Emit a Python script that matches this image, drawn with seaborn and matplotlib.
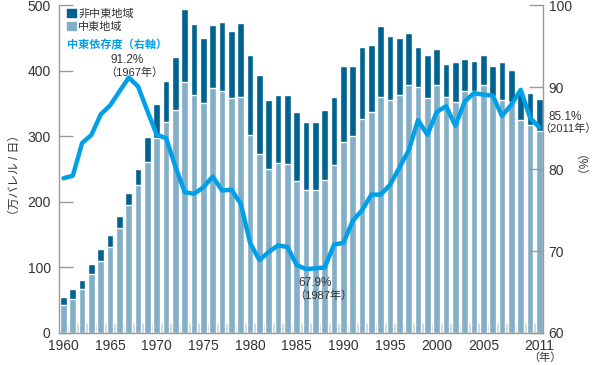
import matplotlib
matplotlib.use("Agg")
import matplotlib.pyplot as plt
from matplotlib.patches import Patch
import pandas as pd
import seaborn as sns

# Japan crude oil imports (10k barrels/day) and Middle East dependency (%)
years = list(range(1960, 2012))
total_imports = [55.5, 66.7, 81, 106, 127.5, 149, 178, 213, 250, 299,
                 350, 384, 421, 495, 472, 450, 470, 475, 461, 474,
                 425, 394, 355, 364, 363, 338, 322, 322, 340, 360,
                 408, 408, 436, 439, 468, 454, 450, 458, 436, 425,
                 434, 410, 413, 419, 415, 425, 407, 413, 401, 368,
                 366, 357]
middle_east = [43, 52, 66.7, 89.5, 110, 131, 160, 196, 226, 261,
               297, 322, 340, 383, 364, 351, 374, 369, 359, 360,
               303, 273, 250, 259, 258, 232, 218, 218, 233, 257,
               292, 301, 327, 338, 361, 356, 364, 378, 375, 359,
               378, 360, 353, 370, 370, 379, 362, 356, 352, 325,
               317, 308]
dependency = [78.9, 79.2, 83.2, 84.2, 86.7, 87.8, 89.5, 91.2, 90.1, 87.1,
              84.2, 83.8, 80.3, 77.2, 77.0, 77.8, 79.1, 77.4, 77.5, 75.8,
              71.0, 68.9, 69.9, 70.7, 70.5, 68.3, 67.8, 67.9, 68.0, 70.8,
              71.0, 73.7, 75.0, 76.9, 76.9, 78.1, 80.2, 82.3, 86.0, 84.2,
              87.0, 87.7, 85.3, 88.3, 89.3, 89.1, 89.0, 86.5, 87.9, 89.7,
              86.3, 85.1]
xtick_years = [1960, 1965, 1970, 1975, 1980, 1985, 1990, 1995, 2000, 2005, 2011]

DARK = "#00628f"
LIGHT = "#82aec6"
CYAN = "#00a0e9"
GRAY = "#9a9a9a"
TEXT = "#333333"

df = pd.DataFrame({"year": years, "total": total_imports,
                   "me": middle_east, "dep": dependency})

sns.set_style("white")
plt.rcParams["font.family"] = ["Liberation Sans", "Noto Sans CJK JP", "DejaVu Sans"]

fig = plt.figure(figsize=(6, 3.65), dpi=100)
ax = fig.add_axes([0.0983, 0.0877, 0.8067, 0.8973])

sns.barplot(data=df, x="year", y="total", native_scale=True, color=DARK,
            saturation=1, width=0.72, ax=ax)
sns.barplot(data=df, x="year", y="me", native_scale=True, color=LIGHT,
            saturation=1, width=0.72, ax=ax)

ax.set_xlim(1959.52, 2011.39)
ax.set_ylim(0, 500)
ax.set_yticks([0, 100, 200, 300, 400, 500])
ax.set_xticks(xtick_years)
ax.set_xticklabels([str(y) for y in xtick_years])
ax.set_xticks([y + 0.5 for y in years[:-1]], minor=True)
ax.set_xlabel("")
ax.set_ylabel("")
ax.tick_params(axis="x", which="major", length=0, pad=4, labelsize=10, labelcolor=TEXT)
ax.tick_params(axis="x", which="minor", direction="in", length=7, width=2.5,
               color="#c4c4c4", bottom=True)
ax.tick_params(axis="y", direction="in", length=10, color=GRAY, width=1,
               pad=6, labelsize=10, labelcolor=TEXT, left=True)
for side in ["top", "right"]:
    ax.spines[side].set_visible(False)
for side in ["left", "bottom"]:
    ax.spines[side].set_color(GRAY)
    ax.spines[side].set_linewidth(1)

ax2 = ax.twinx()
sns.lineplot(data=df, x="year", y="dep", color=CYAN, lw=3.2, ax=ax2)
ax2.set_ylim(60, 100)
ax2.set_xlim(1959.52, 2011.39)
ax2.set_yticks([60, 70, 80, 90, 100])
ax2.set_ylabel("")
ax2.tick_params(axis="y", direction="in", length=10, color=GRAY, width=1,
                pad=4, labelsize=10, labelcolor=TEXT, right=True)
for side in ["top", "left", "bottom"]:
    ax2.spines[side].set_visible(False)
ax2.spines["right"].set_color(GRAY)
ax2.spines["right"].set_linewidth(1)

# legend
handles = [Patch(color=DARK, label="非中東地域"), Patch(color=LIGHT, label="中東地域")]
ax.legend(handles=handles, loc="upper left", bbox_to_anchor=(0.0165, 0.99),
          frameon=False, fontsize=8, handlelength=0.8, handleheight=0.8,
          handletextpad=0.2, labelspacing=0.25, borderpad=0, borderaxespad=0,
          labelcolor=TEXT)
ax.text(0.0165, 0.882, "中東依存度（右軸）", transform=ax.transAxes, color=CYAN,
        fontsize=8, fontweight="bold", va="center", ha="left")

# annotations
ax2.text(1966.8, 93.3, "91.2%", fontsize=8.5, color=TEXT, ha="center", va="center")
ax2.text(1967.6, 91.8, "（1967年）", fontsize=8, color=TEXT, ha="center", va="center")
ax2.text(1987.0, 66.1, "67.9%", fontsize=8.5, color=TEXT, ha="center", va="center")
ax2.text(1987.8, 64.5, "（1987年）", fontsize=8, color=TEXT, ha="center", va="center")
ax2.text(2011.95, 86.4, "85.1%", fontsize=8.5, color=TEXT, ha="left", va="center")
ax2.text(2017.1, 84.9, "（2011年）", fontsize=8, color=TEXT, ha="right", va="center")
ax.text(2011.6, -37, "（年）", fontsize=8, color=TEXT, ha="center", va="center",
        clip_on=False)

fig.text(15 / 600, 1 - 175 / 365, "（万バレル / 日）", rotation=90, fontsize=8.5,
         color=TEXT, ha="center", va="center")
fig.text(573 / 600, 1 - 172 / 365, "（%）", rotation=-90, fontsize=8.5,
         color=TEXT, ha="center", va="center")

fig.savefig("out.png", dpi=100)
